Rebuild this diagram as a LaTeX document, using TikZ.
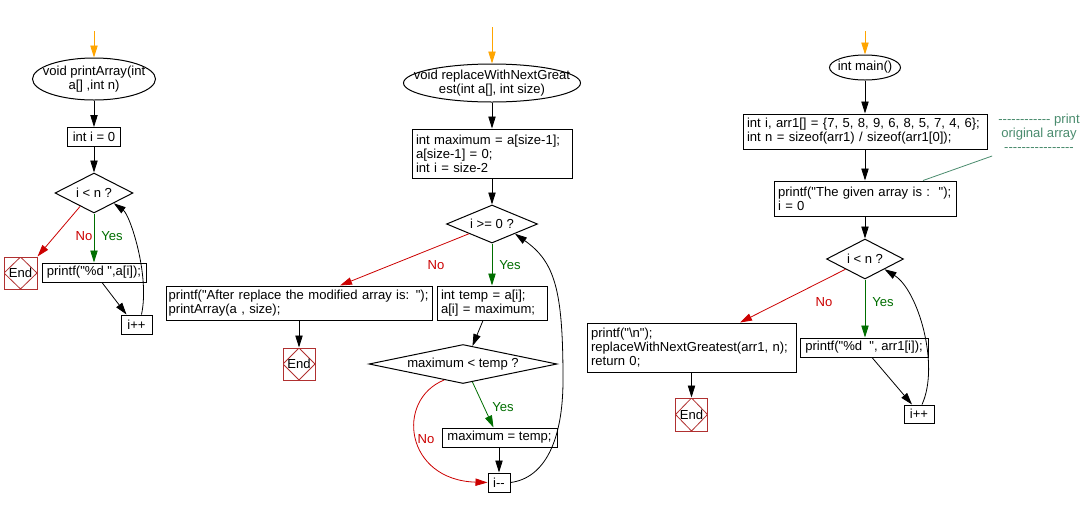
\documentclass[tikz,border=0pt]{standalone}
\usepackage{fontspec}
\newfontfamily\arialf{Liberation Sans}
\usetikzlibrary{shapes.geometric,arrows.meta,calc}
\definecolor{flred}{RGB}{204,0,0}
\definecolor{flgreen}{RGB}{0,110,0}
\definecolor{florange}{RGB}{255,165,0}
\definecolor{endred}{RGB}{176,48,48}
\definecolor{cmt}{RGB}{74,140,110}
\newcommand{\ol}[1]{\mbox{#1}}
\begin{document}
\begin{tikzpicture}[x=0.75pt,y=-0.75pt,
  every node/.style={font=\arialf\fontsize{9.8}{10.5}\selectfont},
  procN/.style={draw, line width=0.75pt, rectangle, inner xsep=3pt, inner ysep=0pt, align=left},
  proc1/.style={draw, line width=0.75pt, rectangle, inner sep=0pt, align=center},
  term/.style={draw, ellipse, line width=0.75pt, inner sep=0pt},
  dec/.style={draw, diamond, line width=0.75pt, inner sep=0pt},
  endbox/.style={draw=endred, line width=0.75pt, minimum width=24pt, minimum height=24pt, inner sep=0pt,
    path picture={\draw[endred, line width=0.6pt] (path picture bounding box.north) -- (path picture bounding box.east) -- (path picture bounding box.south) -- (path picture bounding box.west) -- cycle;}},
  flow/.style={line width=0.6pt, -{Triangle[length=9pt,width=5.5pt]}},
  yesflow/.style={flow, draw=flgreen},
  noflow/.style={flow, draw=flred},
  startflow/.style={flow, draw=florange},
  yeslbl/.style={text=flgreen, inner sep=0pt},
  nolbl/.style={text=flred, inner sep=0pt}
]
\fill[white] (0,0) rectangle (1087,508);
\useasboundingbox (0,0) rectangle (1087,508);

% ---------- left: printArray ----------
\coordinate (o1) at (94,31);
\node[term, minimum width=92.25pt, minimum height=31.5pt, label={[align=center]center:{void printArray(int\\a[] ,int n)}}] (s1) at (94,79) {};
\node[proc1, minimum width=39.75pt, minimum height=14.25pt] (b1) at (94,137) {int i = 0};
\node[dec, minimum width=58.5pt, minimum height=30pt, label=center:{i < n ?}] (d1) at (94,193) {};
\node[proc1, minimum width=78pt, minimum height=14.25pt] (p1) at (94,272.5) {printf("\%d ",a[i]);};
\node[endbox, minimum width=24.75pt] (e1) at (20.5,273) {End};
\node[proc1, minimum width=23.25pt, minimum height=14.25pt] (i1) at (136.5,324.5) {i++};
\node[nolbl] (n1) at (84,236) {No};
\node[yeslbl] (y1) at (112,236) {Yes};

\draw[startflow] (o1) -- (s1);
\draw[flow] (s1) -- (b1);
\draw[flow] (b1) -- (d1);
\draw[yesflow] (d1.south) -- (p1.north);
\draw[noflow] ($(d1.south west)!0.3!(d1.south)$) -- (e1.north east);
\draw[flow] ($(p1.south)+(8,0)$) -- ($(i1.north)+(-10,0)$);
\draw[flow] ($(i1.north)+(5,0)$) .. controls (150,275) and (130,215) .. (d1.south east);

% ---------- middle: replaceWithNextGreatest ----------
\coordinate (o2) at (492,27);
\node[term, minimum width=132.75pt, minimum height=28.5pt, label={[align=center]center:{void replaceWithNextGreat\\est(int a[], int size)}}] (s2) at (492,83) {};
\node[procN, text width=114pt, minimum height=36.75pt] (b2) at (492,153.5) {\ol{int maximum = a[size-1];}\\a[size-1] = 0;\\int i = size-2};
\node[dec, minimum width=68.25pt, minimum height=28.5pt, label=center:{i >= 0 ?}] (d2) at (492,224) {};
\node[procN, inner xsep=2pt, text width=195.5pt, minimum height=25.5pt] (b3) at (299,303) {\ol{printf("After replace the modified array is: ");}\\printArray(a , size);};
\node[procN, text width=76.5pt, minimum height=25.5pt] (b4) at (492,303) {\ol{int temp = a[i];}\\\ol{a[i] = maximum;}};
\node[endbox] (e2) at (299,364) {End};
\node[dec, minimum width=141pt, minimum height=29.25pt, label=center:{maximum < temp ?}] (d3) at (463,364) {};
\node[proc1, minimum width=86.25pt, minimum height=14.25pt] (b5) at (499.5,437.5) {maximum = temp;};
\node[proc1, minimum width=16.5pt, minimum height=14.25pt] (i2) at (499,482.5) {i-{}-};
\node[nolbl] (n2) at (436,265) {No};
\node[yeslbl] (y2) at (510,265) {Yes};
\node[yeslbl] (y3) at (503,407) {Yes};
\node[nolbl] (n3) at (426,439) {No};

\draw[startflow] (o2) -- (s2);
\draw[flow] (s2) -- (b2);
\draw[flow] (b2) -- (d2);
\draw[noflow] (d2.south west) -- ($(b3.north)+(41,0)$);
\draw[yesflow] (d2.south) -- (b4.north);
\draw[flow] (b3.south) -- (e2.north);
\draw[flow] ($(b4.south)+(-9,0)$) -- ($(d3.north)!0.1!(d3.east)$);
\draw[yesflow] ($(d3.south)!0.1!(d3.east)$) -- ($(b5.north)+(-6,0)$);
\draw[noflow] ($(d3.south)!0.2!(d3.west)$) .. controls (395,400) and (405,480) .. (i2.west);
\draw[flow] (i2.north |- b5.south) -- (i2.north);
\draw[flow] (i2.east) .. controls (545,478) and (563,440) .. (563,380) .. controls (563,290) and (555,262) .. (d2.south east);

% ---------- right: main ----------
\coordinate (o3) at (865,31);
\node[term, minimum width=53.25pt, minimum height=18.75pt, label=center:{int main()}] (s3) at (865,67.5) {};
\node[procN, text width=177pt, minimum height=26.25pt] (b6) at (865,131.5) {\ol{int i, arr1[] = \{7, 5, 8, 9, 6, 8, 5, 7, 4, 6\};}\\\ol{int n = sizeof(arr1) / sizeof(arr1[0]);}};
\node[procN, text width=130.5pt, minimum height=26.25pt] (b7) at (865,198.5) {\ol{printf("The given array is :\ \ ");}\\i = 0};
\node[dec, minimum width=57.75pt, minimum height=30pt, label=center:{i < n ?}] (d4) at (865,259) {};
\node[procN, text width=150.75pt, minimum height=36.75pt] (b8) at (691.5,347.5) {printf("\textbackslash n");\\\ol{replaceWithNextGreatest(arr1, n);}\\return 0;};
\node[endbox, minimum height=24.75pt] (e3) at (691.5,414.5) {End};
\node[proc1, minimum width=96pt, minimum height=14.25pt] (p2) at (864,347.5) {printf("\%d\ \ ", arr1[i]);};
\node[proc1, minimum width=22.5pt, minimum height=13.5pt] (i3) at (919,414) {i++};
\node[text=cmt, align=center, inner sep=0pt] (c1) at (1039,133) {------------ print\\original array\\----------------};
\node[nolbl] (n4) at (824,302) {No};
\node[yeslbl] (y4) at (883,302) {Yes};

\draw[startflow] (o3) -- (s3);
\draw[flow] (s3) -- (b6);
\draw[flow] (b6) -- (b7);
\draw[flow] (b7) -- (d4);
\draw[noflow] (d4.south west) -- ($(b8.north)+(48.5,0)$);
\draw[yesflow] (d4.south) -- (d4.south |- p2.north);
\draw[flow] (b8.south) -- (e3.north);
\draw[flow] ($(p2.south)+(8,0)$) -- ($(i3.north)+(-7,0)$);
\draw[flow] ($(i3.north)+(3,0)$) .. controls (940,365) and (918,290) .. (d4.south east);
\draw[cmt, line width=0.6pt] ($(c1.south west)+(-6,4)$) -- ($(b7.north)+(58,0)$);
\end{tikzpicture}
\end{document}
